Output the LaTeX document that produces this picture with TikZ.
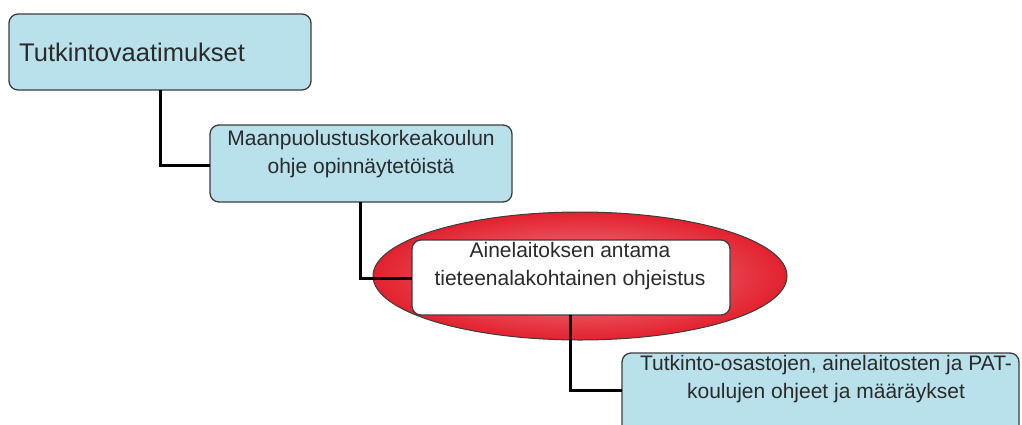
\documentclass[tikz,border=0pt]{standalone}
\usepackage{fontspec}
\setmainfont{Liberation Sans}
\usetikzlibrary{shapes.geometric}
\definecolor{boxblue}{HTML}{B9E1EB}
\definecolor{boxline}{HTML}{3C3C3C}
\definecolor{ellred}{HTML}{E3212E}
\definecolor{ellpink}{HTML}{F28A96}
\definecolor{txt}{HTML}{2A2A2A}
\tikzset{
  bluebox/.style={draw=boxline, line width=1.3pt, fill=boxblue, rounded corners=9pt},
  whitebox/.style={draw=boxline, line width=1.3pt, fill=white, rounded corners=9pt},
  conn/.style={draw=black, line width=3pt},
  lbl/.style={text=txt, inner sep=0pt, align=center, font=\fontsize{21}{28}\selectfont},
}
\begin{document}
\begin{tikzpicture}[x=1pt,y=-1pt]
\useasboundingbox (0,0) rectangle (1022,424);
\clip (0,0) rectangle (1022,424);
% ellipse
\node[ellipse, draw=boxline, line width=1pt, inner color=ellpink, outer color=ellred,
      minimum width=414pt, minimum height=128pt] (ell) at (580,276) {};
% box 1
\draw[bluebox] (9,14) rectangle (311,90);
\node[text=txt, inner sep=0pt, anchor=west, font=\fontsize{25.5}{28}\selectfont] (t1) at (19,52) {Tutkintovaatimukset};
% box 2
\draw[bluebox] (210,125) rectangle (512,202);
\node[lbl, anchor=north] (t2) at (361,130) {Maanpuolustuskorkeakoulun\\ohje opinnäytetöistä};
% box 3
\draw[whitebox] (412,240) rectangle (730,315);
\node[lbl, anchor=north] (t3) at (570,242) {Ainelaitoksen antama\\tieteenalakohtainen ohjeistus};
% box 4
\draw[bluebox] (622,353) rectangle (1019,450);
\node[lbl, anchor=north] (t4) at (826,355) {Tutkinto-osastojen, ainelaitosten ja PAT-\\koulujen ohjeet ja määräykset};
% named anchors for connectors
\coordinate (b1) at (160,90);
\coordinate (b2l) at (210,165);
\coordinate (b2) at (360,202);
\coordinate (b3l) at (412,278);
\coordinate (b3) at (570,315);
\coordinate (b4l) at (622,390);
\draw[conn] (b1) |- (b2l);
\draw[conn] (b2) |- (b3l);
\draw[conn] (b3) |- (b4l);
\end{tikzpicture}
\end{document}
